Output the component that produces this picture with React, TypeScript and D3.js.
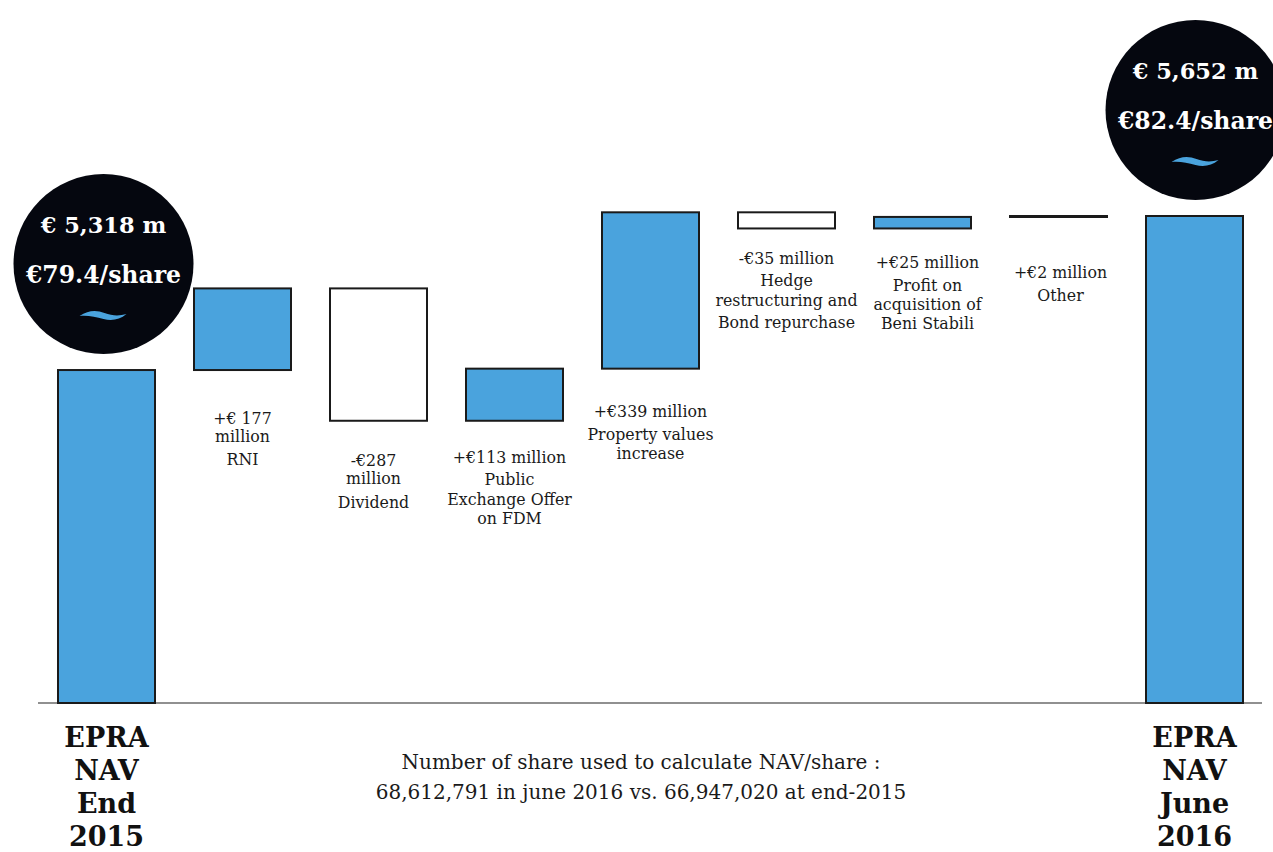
import React from "react";
import * as d3 from "d3";

const categories = ["End 2015", "RNI", "Dividend", "FDM", "Property", "Hedge", "Beni Stabili", "Other", "June 2016"];
const startValue = 5318;
const endValue = 5652;
const deltas = [177, -287, 113, 339, -35, 25, 2];
const deltaLabels = [
  ["+€ 177", "million", "RNI"],
  ["-€287", "million", "Dividend"],
  ["+€113 million", "Public", "Exchange Offer", "on FDM"],
  ["+€339 million", "Property values", "increase"],
  ["-€35 million", "Hedge", "restructuring and", "Bond repurchase"],
  ["+€25 million", "Profit on", "acquisition of", "Beni Stabili"],
  ["+€2 million", "Other"],
];
const totalLabels = [
  ["EPRA", "NAV", "End", "2015"],
  ["EPRA", "NAV", "June", "2016"],
];
const bubbleLabels = [
  ["€ 5,318 m", "€79.4/share"],
  ["€ 5,652 m", "€82.4/share"],
];
const footnote = [
  "Number of share used to calculate NAV/share :",
  "68,612,791 in june 2016 vs. 66,947,020 at end-2015",
];

// layout (pixels)
const labelOffset = [54, 45, 42, 48, 36, 40, 61];
const labelLines = [
  [0, 18, 41],
  [0, 18, 42],
  [0, 22, 42, 61],
  [0, 23, 42],
  [0, 22, 42, 64],
  [0, 23, 42, 61],
  [0, 23],
];
const labelDx = [0, -5, -5, 0, 0, 5, 2];

const W = 1273;
const H = 852;
const BLUE = "#4aa3dd";
const NAVY = "#05070f";
const SERIF = "'DejaVu Serif', serif";

export default function App() {
  const x = d3
    .scaleBand<string>()
    .domain(categories)
    .range([58, 1243])
    .paddingInner(39 / 136)
    .paddingOuter(0);
  const y = d3.scaleLinear().domain([4596, endValue]).range([703, 216]);

  type Step = { cat: string; y0: number; y1: number; kind: "total" | "up" | "down" };
  const steps: Step[] = [];
  steps.push({ cat: categories[0], y0: 4596, y1: startValue, kind: "total" });
  let run = startValue;
  deltas.forEach((d, i) => {
    steps.push({ cat: categories[i + 1], y0: run, y1: run + d, kind: d >= 0 ? "up" : "down" });
    run += d;
  });
  steps.push({ cat: categories[categories.length - 1], y0: 4596, y1: endValue, kind: "total" });

  const bw = x.bandwidth();
  const wave = "M -23,1 C -14,-5 -6,-5 2,-2 C 10,1 17,1 24,-1 C 17,5 9,6 1,4 C -7,2 -15,0 -23,1 Z";

  return (
    <svg width={W} height={H} style={{ position: "absolute", left: 0, top: 0, background: "#fff" }}>
      <line x1={38} x2={1262} y1={y(4596)} y2={y(4596)} stroke="#222" strokeWidth={1.2} />

      {steps.map((s) => {
        const top = y(Math.max(s.y0, s.y1));
        const bot = y(Math.min(s.y0, s.y1));
        const h = Math.max(bot - top, 1);
        return (
          <rect
            key={s.cat}
            x={x(s.cat)!}
            y={top}
            width={bw}
            height={h}
            fill={s.kind === "down" ? "#fff" : BLUE}
            stroke="#1a1a1a"
            strokeWidth={2}
          />
        );
      })}

      {deltas.map((d, i) => {
        const s = steps[i + 1];
        const bot = y(Math.min(s.y0, s.y1));
        const cx = x(s.cat)! + bw / 2 + labelDx[i];
        const base = bot + labelOffset[i];
        return (
          <text key={"l" + i} textAnchor="middle" fontFamily={SERIF} fontSize={15.8} fill="#1a1a1a">
            {deltaLabels[i].map((t, j) => (
              <tspan key={j} x={cx} y={base + labelLines[i][j]}>
                {t}
              </tspan>
            ))}
          </text>
        );
      })}

      {[steps[0], steps[steps.length - 1]].map((s, k) => {
        const cx = x(s.cat)! + bw / 2 + (k === 0 ? -3 : 1);
        const cy = y(s.y1) - 106;
        return (
          <g key={"b" + k}>
            <circle cx={cx} cy={cy} r={90} fill={NAVY} />
            <text x={cx} y={cy - 31} textAnchor="middle" fontFamily={SERIF} fontWeight="bold" fontSize={22.5} fill="#fff">
              {bubbleLabels[k][0]}
            </text>
            <text x={cx} y={cy + 19} textAnchor="middle" fontFamily={SERIF} fontWeight="bold" fontSize={23.5} fill="#fff">
              {bubbleLabels[k][1]}
            </text>
            <path d={wave} transform={`translate(${cx - 1},${cy + 51})`} fill={BLUE} />
          </g>
        );
      })}

      {[steps[0], steps[steps.length - 1]].map((s, k) => {
        const cx = x(s.cat)! + bw / 2;
        return (
          <text key={"t" + k} textAnchor="middle" fontFamily={SERIF} fontWeight="bold" fontSize={27} fill="#111">
            {totalLabels[k].map((t, j) => (
              <tspan key={j} x={cx} y={747 + j * 33}>
                {t}
              </tspan>
            ))}
          </text>
        );
      })}

      <text textAnchor="middle" fontFamily={SERIF} fontSize={20} fill="#1a1a1a">
        {footnote.map((t, j) => (
          <tspan key={j} x={641} y={769 + j * 30}>
            {t}
          </tspan>
        ))}
      </text>
    </svg>
  );
}
